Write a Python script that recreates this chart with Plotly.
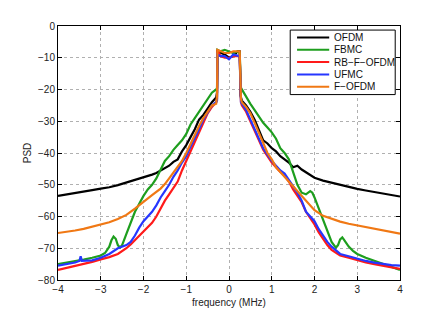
import plotly.graph_objects as go

names = ["OFDM", "FBMC", "RB\u2212F\u2212OFDM", "UFMC", "F\u2212OFDM"]
colors = ["#000000", "#1e9e1e", "#ff1a1a", "#2636ff", "#f07814"]

# OFDM
f_ofdm = [-4.0, -3.8, -3.6, -3.4, -3.2, -3.0, -2.8, -2.6, -2.4, -2.2, -2.0, -1.9, -1.8, -1.7, -1.6,
          -1.5, -1.4, -1.3, -1.25, -1.2, -1.1, -1.0, -0.9, -0.8, -0.7, -0.6, -0.5, -0.4, -0.3, -0.28,
          -0.27, -0.2, -0.1, 0.0, 0.1, 0.2, 0.25,
          0.27, 0.3, 0.4, 0.5, 0.6, 0.7, 0.8, 0.9, 1.0, 1.1, 1.2, 1.3, 1.4, 1.5, 1.6, 1.7, 1.8, 1.9,
          2.0, 2.2, 2.4, 2.6, 2.8, 3.0, 3.2, 3.4, 3.6, 3.8, 4.0]
p_ofdm = [-53.5, -53.1, -52.7, -52.2, -51.7, -51.2, -50.8, -50.1, -49.3, -48.6, -47.6, -47.3, -46.8, -46.3, -45.6,
          -44.8, -44.0, -42.8, -42.5, -42.0, -39.5, -37.5, -35.0, -32.5, -29.5, -28.0, -26.0, -24.0, -22.5, -21.0,
          -8.0, -8.5, -9.0, -10.0, -9.5, -8.0, -8.0,
          -22.0, -23.5, -25.0, -27.0, -29.5, -33.0, -36.0, -37.0, -38.5, -39.5, -41.0, -42.0, -43.0, -44.5, -44.0, -45.2, -46.0, -47.0,
          -47.8, -48.7, -49.4, -50.1, -50.7, -51.3, -51.8, -52.3, -52.8, -53.2, -53.7]

# FBMC
f_fbmc = [-4.0, -3.8, -3.6, -3.4, -3.2, -3.0, -2.9, -2.8, -2.75, -2.7, -2.65, -2.6, -2.55, -2.5, -2.4,
          -2.3, -2.2, -2.1, -2.0, -1.9, -1.8, -1.7, -1.6, -1.5, -1.4, -1.3, -1.2, -1.1, -1.0, -0.9,
          -0.8, -0.7, -0.6, -0.5, -0.4, -0.3, -0.28,
          -0.27, -0.2, -0.1, 0.0, 0.1, 0.2, 0.25,
          0.28, 0.3, 0.4, 0.5, 0.6, 0.7, 0.8, 0.9, 1.0, 1.1, 1.2, 1.3, 1.4, 1.5, 1.6, 1.7, 1.8, 1.9,
          1.95, 2.0, 2.1, 2.2, 2.3, 2.4, 2.5, 2.55, 2.6, 2.65, 2.7, 2.8, 2.9, 3.0, 3.2, 3.4, 3.6, 3.8, 4.0]
p_fbmc = [-75.0, -74.6, -74.2, -73.6, -73.0, -72.3, -71.5, -69.5, -67.5, -66.3, -67.0, -69.0, -69.8, -69.0, -65.5,
          -62.0, -58.5, -56.0, -53.5, -51.5, -50.0, -48.0, -45.0, -42.5, -41.0, -39.0, -37.5, -36.0, -34.0, -31.0,
          -29.0, -27.0, -25.0, -23.0, -21.0, -20.0, -19.5,
          -7.5, -8.0, -7.5, -8.0, -8.5, -8.0, -8.5,
          -19.5, -20.0, -22.0, -24.5, -26.5, -28.5, -30.5, -32.0, -33.5, -35.5, -38.5, -40.0, -42.0, -46.0, -50.0, -52.5, -53.0, -52.0,
          -52.5, -54.0, -57.5, -61.0, -65.0, -68.0, -69.8, -69.0, -67.2, -66.6, -67.5, -69.5, -70.8, -71.8, -73.0, -74.0, -75.0, -76.0, -76.8]

# RB-F-OFDM
f_rb = [-4.0, -3.8, -3.6, -3.4, -3.2, -3.0, -2.8, -2.6, -2.5, -2.4, -2.3, -2.2, -2.1, -2.0, -1.9,
        -1.8, -1.7, -1.6, -1.5, -1.4, -1.3, -1.2, -1.1, -1.0, -0.9, -0.8, -0.7, -0.6, -0.5, -0.4,
        -0.3, -0.28,
        -0.27, -0.2, -0.1, 0.0, 0.1, 0.2, 0.25,
        0.28, 0.3, 0.4, 0.5, 0.6, 0.7, 0.8, 0.9, 1.0, 1.1, 1.2, 1.3, 1.4, 1.5, 1.6, 1.7, 1.8, 1.9,
        2.0, 2.1, 2.2, 2.3, 2.4, 2.5, 2.6, 2.8, 3.0, 3.2, 3.4, 3.6, 3.8, 4.0]
p_rb = [-76.8, -76.2, -75.6, -75.0, -74.3, -73.5, -72.8, -71.8, -71.0, -70.0, -68.8, -67.5, -66.0, -64.8, -63.5,
        -62.0, -60.0, -57.5, -55.0, -53.0, -51.0, -49.0, -45.5, -42.5, -39.5, -36.5, -33.0, -30.0, -27.5, -25.5,
        -24.0, -23.0,
        -7.5, -9.5, -10.0, -10.0, -9.5, -9.5, -9.5,
        -24.0, -25.0, -27.0, -30.0, -33.0, -36.0, -39.0, -41.0, -43.0, -44.5, -46.0, -47.0, -49.0, -51.5, -53.5, -55.5, -58.5, -60.5,
        -62.5, -65.0, -67.0, -69.0, -70.5, -71.5, -72.3, -73.0, -73.8, -74.5, -75.0, -75.5, -76.0, -76.5]

# UFMC
f_ufmc = [-4.0, -3.8, -3.6, -3.5, -3.47, -3.44, -3.2, -3.0, -2.8, -2.6, -2.4, -2.3, -2.2, -2.1, -2.0,
          -1.9, -1.8, -1.7, -1.6, -1.5, -1.4, -1.3, -1.2, -1.1, -1.0, -0.9, -0.8, -0.7, -0.6, -0.5,
          -0.4, -0.3, -0.28,
          -0.27, -0.2, -0.1, 0.0, 0.1, 0.2, 0.25,
          0.28, 0.3, 0.4, 0.5, 0.6, 0.7, 0.8, 0.9, 1.0, 1.1, 1.2, 1.3, 1.4, 1.5, 1.6, 1.7, 1.8, 1.9,
          2.0, 2.1, 2.2, 2.3, 2.4, 2.5, 2.6, 2.8, 3.0, 3.2, 3.4, 3.6, 3.8, 4.0]
p_ufmc = [-75.5, -75.0, -74.5, -74.0, -72.5, -74.0, -73.8, -73.0, -71.8, -70.0, -69.0, -68.0, -66.0, -63.5, -61.5,
          -60.0, -58.5, -56.5, -54.0, -52.0, -50.0, -47.5, -45.5, -43.0, -41.0, -38.0, -35.5, -32.5, -29.5, -27.0,
          -25.0, -24.0, -23.5,
          -9.0, -9.5, -9.5, -10.5, -9.0, -9.5, -9.5,
          -24.0, -24.5, -26.5, -29.5, -32.5, -35.5, -38.5, -40.5, -42.5, -44.0, -45.5, -46.5, -48.5, -50.5, -52.5, -55.0, -58.5, -60.0,
          -61.5, -64.0, -66.0, -68.0, -69.5, -70.8, -71.8, -72.5, -73.3, -74.0, -74.5, -75.0, -75.3, -75.5]

# F-OFDM
f_fofdm = [-4.0, -3.8, -3.6, -3.4, -3.2, -3.0, -2.8, -2.6, -2.4, -2.2, -2.0, -1.8, -1.6, -1.5, -1.4,
           -1.3, -1.2, -1.1, -1.0, -0.9, -0.8, -0.7, -0.6, -0.5, -0.4, -0.3, -0.28,
           -0.27, -0.2, -0.1, 0.0, 0.1, 0.2, 0.25,
           0.28, 0.3, 0.4, 0.5, 0.6, 0.7, 0.8, 0.9, 1.0, 1.1, 1.2, 1.3, 1.4, 1.5, 1.6, 1.7, 1.8, 1.9,
           2.0, 2.2, 2.4, 2.6, 2.8, 3.0, 3.2, 3.4, 3.6, 3.8, 4.0]
p_fofdm = [-65.2, -64.9, -64.4, -63.9, -63.2, -62.6, -61.8, -60.8, -59.5, -57.5, -55.5, -53.3, -51.2, -49.8, -48.0,
           -46.2, -44.5, -42.5, -40.0, -37.0, -34.5, -31.5, -29.0, -27.0, -25.0, -24.5, -22.0,
           -7.5, -8.0, -8.5, -8.5, -8.0, -8.0, -8.0,
           -23.0, -24.0, -25.5, -27.5, -30.5, -33.5, -37.0, -40.0, -42.0, -44.5, -46.0, -47.5, -49.0, -50.5, -52.0, -53.5, -55.0, -56.5,
           -58.0, -59.8, -60.8, -61.6, -62.3, -62.8, -63.3, -63.8, -64.3, -64.8, -65.4]

xs = [f_ofdm, f_fbmc, f_rb, f_ufmc, f_fofdm]
ys = [p_ofdm, p_fbmc, p_rb, p_ufmc, p_fofdm]

x_ticks = [-4, -3, -2, -1, 0, 1, 2, 3, 4]
y_ticks = [0, -10, -20, -30, -40, -50, -60, -70, -80]

fig = go.Figure()
for name, c, x, y in zip(names, colors, xs, ys):
    fig.add_trace(go.Scatter(x=x, y=y, mode="lines", name=name,
                             line=dict(color=c, width=2.2), showlegend=False))

font = dict(family="Liberation Sans, Arial, sans-serif", size=10, color="#222")

# manual legend (MATLAB style compact box)
lx0, lx1, ly0, ly1 = 0.679, 0.986, 0.730, 0.984
shapes = [dict(type="rect", xref="paper", yref="paper", x0=lx0, x1=lx1, y0=ly0, y1=ly1,
               line=dict(color="#000", width=1), fillcolor="white", layer="above")]
annotations = []
row_top = 0.955
row_step = 0.0485
for i, (name, c) in enumerate(zip(names, colors)):
    yy = row_top - i * row_step
    shapes.append(dict(type="line", xref="paper", yref="paper", x0=0.699, x1=0.793, y0=yy, y1=yy,
                       line=dict(color=c, width=2), layer="above"))
    annotations.append(dict(xref="paper", yref="paper", x=0.801, y=yy, text=name, showarrow=False,
                            xanchor="left", yanchor="middle", font=dict(family=font["family"], size=10, color="#111")))

# page body has an 8px margin, so the figure is shrunk and margins reduced to keep
# the plot area where the reference has it
fig.update_layout(
    width=435, height=310, autosize=False,
    margin=dict(l=50, r=43, t=16, b=35),
    paper_bgcolor="white", plot_bgcolor="white",
    font=font,
    shapes=shapes, annotations=annotations,
)
fig.update_xaxes(range=[-4, 4], tickvals=x_ticks, ticks="inside", ticklen=4, tickcolor="#000",
                 showline=True, linecolor="#000", linewidth=1, mirror="ticks",
                 showgrid=True, gridcolor="#b0b0b0", griddash="dot", gridwidth=1, zeroline=False,
                 title=dict(text="frequency (MHz)", standoff=4, font=font))
fig.update_yaxes(range=[-80, 0], tickvals=y_ticks, ticks="inside", ticklen=4, tickcolor="#000",
                 showline=True, linecolor="#000", linewidth=1, mirror="ticks",
                 showgrid=True, gridcolor="#b0b0b0", griddash="dot", gridwidth=1, zeroline=False,
                 title=dict(text="PSD", standoff=4, font=font))

fig.write_html("out.html")
